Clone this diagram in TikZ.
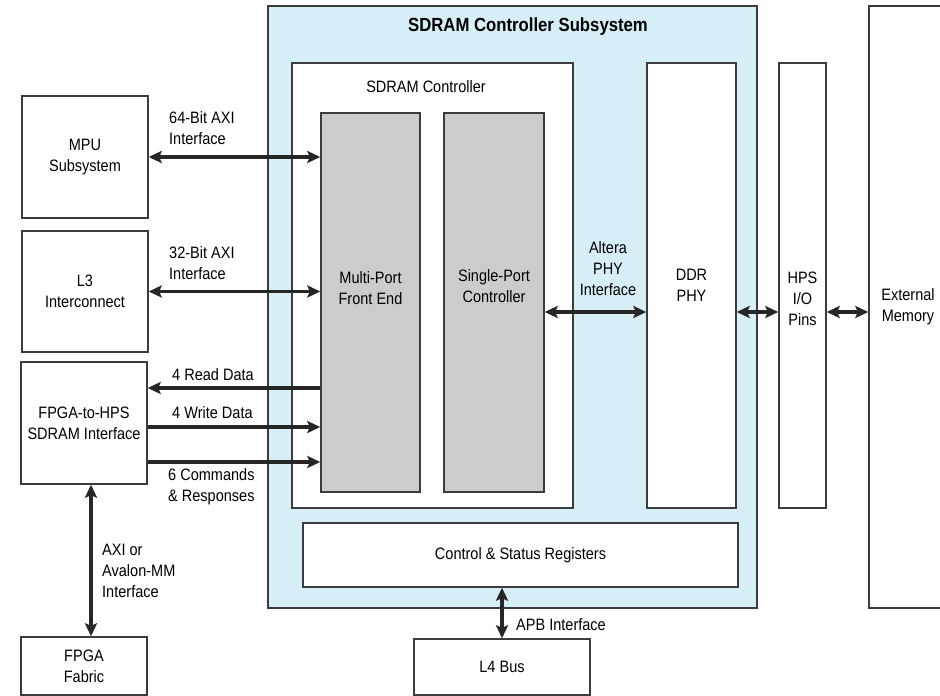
\documentclass[tikz,border=0pt]{standalone}
\usepackage{fontspec}
\setmainfont{Liberation Sans}[FakeStretch=0.88]
\usetikzlibrary{arrows.meta}

\definecolor{subsysblue}{HTML}{D6EEF5}
\definecolor{blockgray}{HTML}{CCCCCC}
\definecolor{edgegray}{HTML}{3C3C3C}

\newcommand{\txtfont}{\fontsize{16.5}{21}\selectfont}

\tikzset{
  txt/.style = {font = \txtfont, align = center, inner sep = 0pt},
  blk/.style = {txt, draw = edgegray, line width = 1.4pt, fill = white,
    rectangle},
  lbl/.style = {txt, anchor = west, align = left},
  bustip/.tip = {Stealth[length = 13pt, width = 12pt, inset = 2.5pt]},
  bus/.style = {line width = 3.5pt, draw = black!85, bustip-bustip},
  wbus/.style = {line width = 3.5pt, draw = black!85, -bustip}
}

\begin{document}
\begin{tikzpicture}[x = 1pt, y = -1pt]
  \useasboundingbox (0, 0) rectangle (940, 696);
  \clip (0, 0) rectangle (940, 696);

  \node[blk, minimum width = 126pt, minimum height = 122pt] (mpu) at (85, 157)
    {MPU\\Subsystem};
  \node[blk, minimum width = 126pt, minimum height = 121pt] (l3) at (85, 291.5)
    {L3\\Interconnect};
  \node[blk, minimum width = 126pt, minimum height = 122pt] (f2h) at (84, 423)
    {FPGA-to-HPS\\SDRAM Interface};
  \node[blk, minimum width = 126pt, minimum height = 58pt] (fabric) at (84, 666)
    {FPGA\\Fabric};

  \node[blk, fill = subsysblue, minimum width = 489pt, minimum height = 602pt]
    (subsys) at (512.5, 307) {};
  \node[font = \bfseries\fontsize{19}{23}\selectfont, inner sep = 0pt]
    (subsystitle) at (528, 27) {SDRAM Controller Subsystem};

  \node[blk, minimum width = 281pt, minimum height = 445pt] (ctrl)
    at (432.5, 285.5) {};
  \node[txt] (ctrltitle) at (426, 87) {SDRAM Controller};
  \node[blk, fill = blockgray, minimum width = 99pt, minimum height = 379pt,
    label = {[txt, yshift = 14.5pt]center:Multi-Port\\Front End}] (mpfe)
    at (370.5, 302.5) {};
  \node[blk, fill = blockgray, minimum width = 100pt, minimum height = 379pt,
    label = {[txt, yshift = 16pt]center:Single-Port\\Controller}] (spc)
    at (494, 302.5) {};

  \node[blk, minimum width = 89pt, minimum height = 445pt] (ddrphy)
    at (691.5, 285.5) {DDR\\PHY};
  \node[blk, minimum width = 435pt, minimum height = 64pt] (csr)
    at (520.5, 555) {Control \& Status Registers};

  \node[blk, minimum width = 47pt, minimum height = 445pt,
    label = {[txt, yshift = -13pt]center:HPS\\I/O\\Pins}] (hps)
    at (802.5, 285.5) {};
  \node[blk, minimum width = 78pt, minimum height = 602pt] (extmem)
    at (908, 307) {External\\Memory};
  \node[blk, minimum width = 176pt, minimum height = 56pt] (l4)
    at (502, 667) {L4 Bus};

  \coordinate (phy) at (0, 312);
  \coordinate (rd) at ([yshift = 35pt]f2h.east);
  \coordinate (wr) at ([yshift = -4pt]f2h.east);
  \coordinate (cmd) at ([yshift = -39pt]f2h.east);

  \draw[bus] (mpu.east) -- (mpu.east -| mpfe.west);
  \draw[bus] (l3.east) -- (l3.east -| mpfe.west);
  \draw[wbus] (rd -| mpfe.west) -- (rd);
  \draw[wbus] (wr) -- (wr -| mpfe.west);
  \draw[wbus] (cmd) -- (cmd -| mpfe.west);
  \draw[bus] ([xshift = 7pt]f2h.south) -- ([xshift = 7pt]fabric.north);
  \draw[bus] (spc.east |- phy) -- (ddrphy.west |- phy);
  \draw[bus] (ddrphy.east |- phy) -- (hps.west |- phy);
  \draw[bus] (hps.east |- phy) -- (extmem.west |- phy);
  \draw[bus] (l4.north) -- (l4.north |- csr.south);

  \node[lbl] (axi64) at (169, 128.5) {64-Bit AXI\\Interface};
  \node[lbl] (axi32) at (169, 263.5) {32-Bit AXI\\Interface};
  \node[lbl] (rdlbl) at (172, 375) {4 Read Data};
  \node[lbl] (wrlbl) at (172, 413) {4 Write Data};
  \node[lbl] (cmdlbl) at (168, 487) {6 Commands\\\& Responses};
  \node[lbl] (avlbl) at (102, 571) {AXI or\\Avalon-MM\\Interface};
  \node[txt] (phylbl) at (608, 269) {Altera\\PHY\\Interface};
  \node[lbl] (apblbl) at (516, 625) {APB Interface};
\end{tikzpicture}
\end{document}
